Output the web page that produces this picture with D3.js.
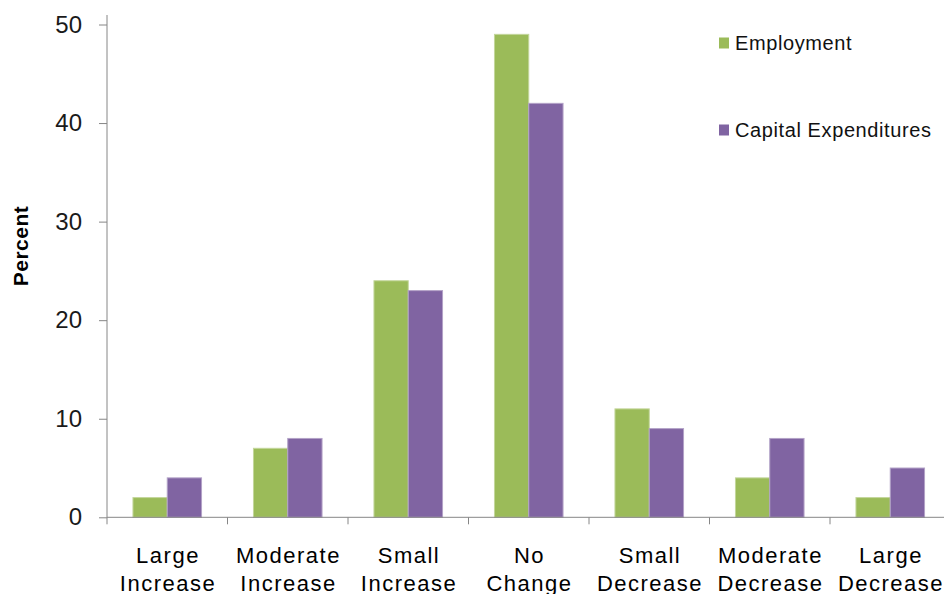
<!DOCTYPE html>
<html>
<head>
<meta charset="utf-8">
<script src="https://cdn.jsdelivr.net/npm/d3@7.9.0/dist/d3.min.js"></script>
<style>
  body { margin: 0; background: #fff; }
  svg { display: block; }
</style>
</head>
<body>
<svg width="944" height="594"></svg>
<script>
// data
const categories = [
  ["Large", "Increase"],
  ["Moderate", "Increase"],
  ["Small", "Increase"],
  ["No", "Change"],
  ["Small", "Decrease"],
  ["Moderate", "Decrease"],
  ["Large", "Decrease"]
];
const seriesNames = ["Employment", "Capital Expenditures"];
const employment = [2, 7, 24, 49, 11, 4, 2];
const capex = [4, 8, 23, 42, 9, 8, 5];
const yTicks = [0, 10, 20, 30, 40, 50];

const colors = d3.scaleOrdinal().domain(seriesNames).range(["#9BBB59", "#8064A2"]);
const strokes = d3.scaleOrdinal().domain(seriesNames).range(["#c3d69b", "#b3a2c7"]);

const svg = d3.select("svg");
const plotLeft = 107, plotRight = 950.5, plotBottom = 517.3, plotTop = 24.5;

const catKeys = categories.map(c => c.join(" "));
const x0 = d3.scaleBand().domain(catKeys).range([plotLeft, plotRight]).padding(0);
const x1 = d3.scaleBand().domain(seriesNames).range([0, x0.bandwidth()])
  .paddingInner(0).paddingOuter(0.757);
const y = d3.scaleLinear().domain([0, 50]).range([plotBottom, plotTop]);

const axisColor = "#868686";

// bars
const rows = catKeys.map((k, i) => ({ key: k, values: [employment[i], capex[i]] }));
const groups = svg.append("g").selectAll("g").data(rows).join("g")
  .attr("transform", d => `translate(${x0(d.key)},0)`);
groups.selectAll("rect")
  .data(d => seriesNames.map((s, j) => ({ s, v: d.values[j] })))
  .join("rect")
  .attr("x", d => x1(d.s))
  .attr("y", d => y(d.v))
  .attr("width", x1.bandwidth())
  .attr("height", d => y(0) - y(d.v))
  .attr("fill", d => colors(d.s))
  .attr("stroke", d => strokes(d.s))
  .attr("stroke-width", 1);

// y axis
const yAxis = svg.append("g").attr("transform", `translate(${plotLeft},0)`)
  .call(d3.axisLeft(y).tickValues(yTicks).tickSize(8).tickPadding(17).tickFormat(d3.format("d")));
yAxis.select(".domain").remove();
yAxis.append("line").attr("x1", 0).attr("x2", 0).attr("y1", 15).attr("y2", plotBottom)
  .attr("stroke", axisColor);
yAxis.selectAll(".tick line").attr("stroke", axisColor);
yAxis.selectAll(".tick text")
  .attr("fill", "#1a1a1a")
  .style("font-family", "'Liberation Sans', Arial, sans-serif")
  .style("font-size", "24px");

// x axis
const xAxis = svg.append("g");
xAxis.append("line").attr("x1", plotLeft).attr("x2", plotRight).attr("y1", plotBottom).attr("y2", plotBottom)
  .attr("stroke", axisColor);
const bounds = catKeys.map(k => x0(k)).concat([plotRight]);
xAxis.selectAll("line.tk").data(bounds).join("line").attr("class", "tk")
  .attr("x1", d => d).attr("x2", d => d)
  .attr("y1", plotBottom).attr("y2", plotBottom + 7)
  .attr("stroke", axisColor);
const labels = xAxis.selectAll("text").data(categories).join("text")
  .attr("x", (d, i) => x0(catKeys[i]) + x0.bandwidth() / 2 + 0.75)
  .attr("text-anchor", "middle")
  .style("font-family", "'Liberation Sans', Arial, sans-serif")
  .style("font-size", "22px")
  .style("letter-spacing", "1.5px")
  .attr("fill", "#000");
labels.selectAll("tspan").data(d => d).join("tspan")
  .attr("x", function () { return this.parentNode.getAttribute("x"); })
  .attr("y", (d, i) => 563 + i * 28)
  .text(d => d);

// y title
svg.append("text")
  .attr("transform", "translate(28,246) rotate(-90)")
  .attr("text-anchor", "middle")
  .style("font-family", "'Liberation Sans', Arial, sans-serif")
  .style("font-size", "21px")
  .style("font-weight", "bold")
  .style("letter-spacing", "0.5px")
  .attr("fill", "#000")
  .text("Percent");

// legend
const legendY = d3.scalePoint().domain(seriesNames).range([43, 130]);
const leg = svg.append("g").selectAll("g").data(seriesNames).join("g")
  .attr("transform", d => `translate(719,${legendY(d)})`);
leg.append("rect").attr("x", 0).attr("y", -5.5).attr("width", 10).attr("height", 11)
  .attr("fill", d => colors(d));
leg.append("text").attr("x", 16).attr("dy", "0.35em")
  .style("font-family", "'Liberation Sans', Arial, sans-serif")
  .style("font-size", "20px")
  .style("letter-spacing", "0.6px")
  .attr("fill", "#111")
  .text(d => d);
</script>
</body>
</html>
